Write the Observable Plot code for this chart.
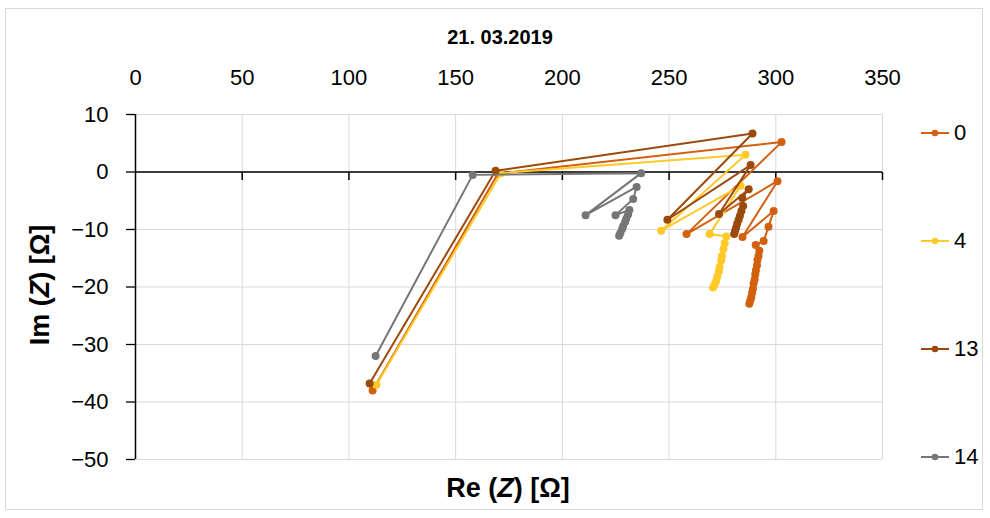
<!DOCTYPE html>
<html>
<head>
<meta charset="utf-8">
<script src="https://cdn.jsdelivr.net/npm/d3@7"></script>
<script src="https://cdn.jsdelivr.net/npm/@observablehq/plot@0.6"></script>
<style>
  body { margin: 0; background: #fff; font-family: "Liberation Sans", Arial, sans-serif; }
  #wrap { position: relative; width: 990px; height: 518px; overflow: hidden; }
  #frame { position: absolute; left: 5px; top: 8px; width: 978px; height: 502px; border: 1px solid #d9d9d9; box-sizing: border-box; }
  #title { position: absolute; left: 0; width: 1000px; top: 26px; text-align: center; font-weight: bold; font-size: 20px; color: #000; }
  #ylab { position: absolute; left: 40px; top: 285px; transform: translate(-50%, -50%) rotate(-90deg); white-space: nowrap; font-weight: bold; font-size: 27px; color: #000; }
  #xlab { position: absolute; left: 508px; top: 488px; transform: translate(-50%, -50%); white-space: nowrap; font-weight: bold; font-size: 27px; color: #000; }
  #legend { position: absolute; left: 920px; top: 120px; height: 350px; display: flex; flex-direction: column; justify-content: space-between; }
  .item { display: flex; align-items: center; font-size: 22px; color: #000; height: 26px; }
  .item svg { margin-right: 4px; }
</style>
</head>
<body>
<div id="wrap">
  <div id="frame"></div>
  <div id="title">21. 03.2019</div>
  <div id="ylab">Im (<i>Z</i>) [Ω]</div>
  <div id="xlab">Re (<i>Z</i>) [Ω]</div>
  <div id="legend"></div>
</div>
<script>
// ---- data ----
const seriesNames = ["0", "4", "13", "14"];
const seriesColors = ["#D2600F", "#FFC928", "#9C4A0C", "#767676"];
const xTicks = [0, 50, 100, 150, 200, 250, 300, 350];
const yTicks = [-50, -40, -30, -20, -10, 0, 10];

const re0 = [111.1, 169.8, 302.7, 258.2, 300.8, 284.4, 299.0, 296.6, 294.3, 290.6, 292.3, 291.9, 291.4, 291.2, 290.7, 290.4, 290.1, 289.6, 289.3, 288.9, 288.5, 288.1, 287.6];
const im0 = [-38.0, -0.3, 5.2, -10.8, -1.6, -11.3, -6.8, -9.5, -12.0, -12.7, -13.7, -14.6, -15.3, -16.2, -17.1, -17.8, -18.7, -19.4, -20.3, -21.0, -21.8, -22.3, -22.9];

const re4 = [112.9, 171.2, 285.8, 246.3, 283.5, 269.0, 276.8, 276.1, 275.5, 274.8, 274.4, 273.7, 273.3, 272.6, 272.1, 271.3, 270.6];
const im4 = [-37.0, -0.2, 3.0, -10.2, -2.4, -10.8, -11.2, -12.4, -13.4, -14.6, -15.4, -16.5, -17.3, -18.2, -18.9, -19.6, -20.1];

const re13 = [109.7, 168.7, 289.1, 249.2, 288.2, 273.4, 287.3, 284.3, 284.7, 283.9, 283.2, 282.6, 281.9, 281.4, 280.9, 280.5];
const im13 = [-36.8, 0.2, 6.7, -8.3, 1.2, -7.3, -3.0, -4.5, -5.9, -6.8, -7.6, -8.3, -9.0, -9.7, -10.3, -10.8];

const re14 = [112.5, 158.0, 236.9, 210.9, 234.8, 233.2, 224.9, 231.4, 230.8, 230.0, 229.4, 228.5, 228.0, 227.2, 226.6];
const im14 = [-32.0, -0.5, -0.2, -7.5, -2.6, -4.7, -7.5, -6.6, -7.4, -8.1, -8.7, -9.4, -9.9, -10.6, -11.1];

const reAll = [re0, re4, re13, re14];
const imAll = [im0, im4, im13, im14];

// ---- table ----
const rows = seriesNames.map((s, k) => reAll[k].map((re, i) => ({s, re, im: imAll[k][i]})));

const tickSymbol = {draw(ctx) { ctx.moveTo(0, 0); ctx.lineTo(0, 8); }};

const seriesMarks = rows.flatMap((data, k) => [
  Plot.line(data, {x: "re", y: "im", stroke: seriesColors[k], strokeWidth: 2}),
  Plot.dot(data, {x: "re", y: "im", fill: seriesColors[k], r: 4})
]);

const chart = Plot.plot({
  width: 990,
  height: 518,
  marginLeft: 135,
  marginRight: 108,
  marginTop: 114,
  marginBottom: 59,
  style: {fontFamily: "Liberation Sans, Arial, sans-serif", fontSize: "22px", color: "#000", background: "transparent"},
  x: {domain: [0, 350]},
  y: {domain: [-50, 10]},
  marks: [
    Plot.gridX(xTicks, {stroke: "#d9d9d9", strokeOpacity: 1}),
    Plot.gridY(yTicks, {stroke: "#d9d9d9", strokeOpacity: 1}),
    Plot.axisX(xTicks, {anchor: "top", tickSize: 0, tickPadding: 30, fontSize: 22, label: null}),
    Plot.axisY(yTicks, {anchor: "left", tickSize: 9, tickPadding: 18, fontSize: 22, label: null, strokeWidth: 1.3}),
    Plot.ruleX([0], {stroke: "#000", strokeWidth: 1.5}),
    Plot.ruleY([0], {stroke: "#000", strokeWidth: 1.5}),
    Plot.dot(xTicks.filter(d => d > 0), {x: d => d, y: 0, symbol: tickSymbol, fill: "none", stroke: "#000", strokeWidth: 1.5}),
    ...seriesMarks
  ]
});
chart.style.position = "absolute";
chart.style.left = "0px";
chart.style.top = "0px";
document.getElementById("wrap").appendChild(chart);

// ---- legend ----
const legend = document.getElementById("legend");
seriesNames.forEach((s, k) => {
  const item = document.createElement("div");
  item.className = "item";
  item.innerHTML = `<svg width="30" height="10"><line x1="1" y1="5" x2="29" y2="5" stroke="${seriesColors[k]}" stroke-width="2"/><circle cx="15" cy="5" r="3.3" fill="${seriesColors[k]}"/></svg><span>${s}</span>`;
  legend.appendChild(item);
});
</script>
</body>
</html>
